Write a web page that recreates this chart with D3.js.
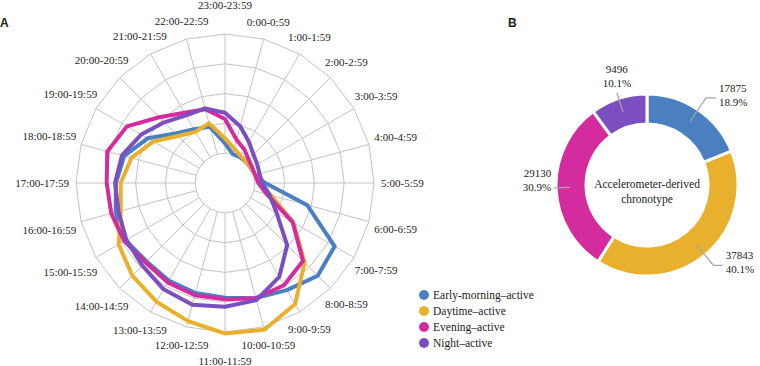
<!DOCTYPE html>
<html>
<head>
<meta charset="utf-8">
<script src="https://cdn.jsdelivr.net/npm/d3@7"></script>
<style>
body { margin: 0; background: #fff; }
svg { display: block; }
</style>
</head>
<body>
<svg id="chart" width="760" height="366"></svg>
<script>
// hours 0..23, share of activity per hour (ring units)
var hourLabels = ["0:00-0:59", "1:00-1:59", "2:00-2:59", "3:00-3:59", "4:00-4:59", "5:00-5:59",
    "6:00-6:59", "7:00-7:59", "8:00-8:59", "9:00-9:59", "10:00-10:59", "11:00-11:59",
    "12:00-12:59", "13:00-13:59", "14:00-14:59", "15:00-15:59", "16:00-16:59", "17:00-17:59",
    "18:00-18:59", "19:00-19:59", "20:00-20:59", "21:00-21:59", "22:00-22:59", "23:00-23:59"];

var earlyMorning = [1.0, 1.0, 1.0, 1.0, 1.05, 1.35, 2.85, 4.25, 4.4, 4.15, 4.0, 3.85,
    3.82, 3.78, 3.72, 3.85, 3.8, 3.66, 3.5, 3.0, 2.35, 2.08, 1.95, 1.33];
var daytime = [1.2, 1.05, 1.0, 1.0, 1.05, 1.15, 1.6, 2.65, 3.78, 4.7, 5.1, 5.05,
    4.8, 4.6, 4.4, 4.12, 3.62, 3.5, 3.25, 2.78, 2.23, 1.98, 2.08, 1.5];
var evening = [1.5, 1.3, 1.12, 1.05, 1.05, 1.12, 1.45, 2.62, 3.7, 3.96, 4.0, 3.9,
    3.9, 3.85, 3.77, 3.9, 3.95, 3.97, 4.09, 3.8, 3.12, 2.72, 2.56, 2.15];
var night = [1.97, 1.6, 1.35, 1.25, 1.2, 1.25, 1.55, 2.0, 2.95, 3.64, 4.07, 4.15,
    4.23, 4.12, 3.92, 3.82, 3.7, 3.69, 3.58, 3.25, 2.88, 2.62, 2.59, 2.36];

var seriesNames = ["Early-morning\u2013active", "Daytime\u2013active", "Evening\u2013active", "Night\u2013active"];
var colors = ["#4a7fc0", "#e9b02e", "#d42c9f", "#7c4fc1"];

// doughnut: participants per chronotype
var groupCounts = [17875, 37843, 29130, 9496];
var centerTitle = ["Accelerometer-derived", "chronotype"];

var serif = "'Liberation Serif', 'Times New Roman', 'DejaVu Serif', serif";
var sans = "'Liberation Sans', Arial, sans-serif";

var svg = d3.select("#chart").attr("font-family", serif).attr("fill", "#222");

// ---------- A: radar ----------
var cx = 225, cy = 183;
var rMax = 149;
var rings = [1, 2, 3, 4, 5];
var r = d3.scaleLinear().domain([0, 5]).range([0, rMax]);
// 23:00 sits at the top, hours run clockwise
var angle = d3.scaleLinear().domain([-1, 23]).range([0, 2 * Math.PI]);

var radar = svg.append("g").attr("transform", "translate(" + cx + "," + cy + ")");

function px(h, v) { return r(v) * Math.sin(angle(h)); }
function py(h, v) { return -r(v) * Math.cos(angle(h)); }

var hours = d3.range(24);

radar.selectAll(".ring")
    .data(rings)
    .enter().append("polygon")
    .attr("points", function(k) {
        return hours.map(function(h) { return px(h, k) + "," + py(h, k); }).join(" ");
    })
    .attr("fill", "none")
    .attr("stroke", "#c3c3c3")
    .attr("stroke-width", 1);

radar.selectAll(".spoke")
    .data(hours)
    .enter().append("line")
    .attr("x1", function(h) { return px(h, rings[0]); })
    .attr("y1", function(h) { return py(h, rings[0]); })
    .attr("x2", function(h) { return px(h, rings[rings.length - 1]); })
    .attr("y2", function(h) { return py(h, rings[rings.length - 1]); })
    .attr("stroke", "#c3c3c3")
    .attr("stroke-width", 1);

var lineRadial = d3.lineRadial()
    .angle(function(v, i) { return angle(i); })
    .radius(function(v) { return r(v); })
    .curve(d3.curveLinearClosed);

radar.selectAll(".series")
    .data([earlyMorning, daytime, evening, night])
    .enter().append("path")
    .attr("d", lineRadial)
    .attr("fill", "none")
    .attr("stroke", function(d, i) { return colors[i]; })
    .attr("stroke-width", 4)
    .attr("stroke-linejoin", "round");

// hour labels: pushed out by half their width at the sides, extra room at top/bottom
var hourText = radar.selectAll(".hour")
    .data(hourLabels)
    .enter().append("text")
    .attr("text-anchor", "middle")
    .attr("dominant-baseline", "central")
    .attr("font-size", 11)
    .text(function(d) { return d; });

hourText.each(function(d, h) {
    var a = angle(h);
    var s = Math.sin(a), c = Math.cos(a);
    var w = this.getComputedTextLength();
    var rl = rMax + 17 + (w / 2 - 10) * s * s + 12 * Math.pow(Math.abs(c), 100);
    d3.select(this).attr("x", rl * s).attr("y", -rl * c);
});

svg.append("text")
    .attr("x", 0).attr("y", 27)
    .attr("font-family", sans).attr("font-weight", "bold").attr("font-size", 12)
    .text("A");

// legend
var legend = svg.append("g").attr("transform", "translate(424,295)");
var lg = legend.selectAll("g")
    .data(seriesNames)
    .enter().append("g")
    .attr("transform", function(d, i) { return "translate(0," + i * 16 + ")"; });
lg.append("circle").attr("r", 5).attr("fill", function(d, i) { return colors[i]; });
lg.append("text")
    .attr("x", 9)
    .attr("dominant-baseline", "central")
    .attr("font-size", 11.5)
    .text(function(d) { return d; });

// ---------- B: doughnut ----------
var dx = 647, dy = 185;
var outerR = 91, innerR = 61;
var total = d3.sum(groupCounts);

svg.append("text")
    .attr("x", 508).attr("y", 27)
    .attr("font-family", sans).attr("font-weight", "bold").attr("font-size", 12)
    .text("B");

var donut = svg.append("g").attr("transform", "translate(" + dx + "," + dy + ")");
var pie = d3.pie().sort(null).value(function(d) { return d; });
var arc = d3.arc().innerRadius(innerR).outerRadius(outerR);
var arcs = pie(groupCounts);

donut.selectAll(".slice")
    .data(arcs)
    .enter().append("path")
    .attr("d", arc)
    .attr("fill", function(d, i) { return colors[i]; })
    .attr("stroke", "#fff")
    .attr("stroke-width", 3);

donut.selectAll(".title")
    .data(centerTitle)
    .enter().append("text")
    .attr("y", function(d, i) { return (i - 0.1) * 15; })
    .attr("text-anchor", "middle")
    .attr("dominant-baseline", "central")
    .attr("font-size", 11.5)
    .text(function(d) { return d; });

// leader lines and value labels
arcs.forEach(function(a, i) {
    var mid = (a.startAngle + a.endAngle) / 2;
    var sx = Math.sin(mid), sy = -Math.cos(mid);
    var side = Math.abs(sx) > 0.5;
    var rEnd = side ? 92 + 16 * Math.abs(sy) : 97;
    var x0 = 77 * sx, y0 = 77 * sy;
    var x1 = rEnd * sx, y1 = rEnd * sy;
    var x2 = side ? x1 + (sx > 0 ? 1 : -1) * 12 * Math.abs(sy) : x1;
    var lines = [groupCounts[i], (a.data / total * 100).toFixed(1) + "%"];

    donut.append("polyline")
        .attr("points", [[x0, y0], [x1, y1], [x2, y1]].join(" "))
        .attr("fill", "none")
        .attr("stroke", "#a6a6a6")
        .attr("stroke-width", 1.2);

    var t = donut.append("text")
        .attr("font-size", 11)
        .attr("text-anchor", side ? (sx > 0 ? "start" : "end") : "middle");
    lines.forEach(function(s, j) {
        var yy = side ? y1 - 2 - 6 * (1 - Math.abs(sy)) + (j - 0.5) * 13.5 : y1 - 10 - (1 - j) * 13.5;
        t.append("tspan")
            .attr("x", side ? x2 + (sx > 0 ? 3 : -3) : x1)
            .attr("y", yy)
            .attr("dominant-baseline", "central")
            .text(s);
    });
});
</script>
</body>
</html>
